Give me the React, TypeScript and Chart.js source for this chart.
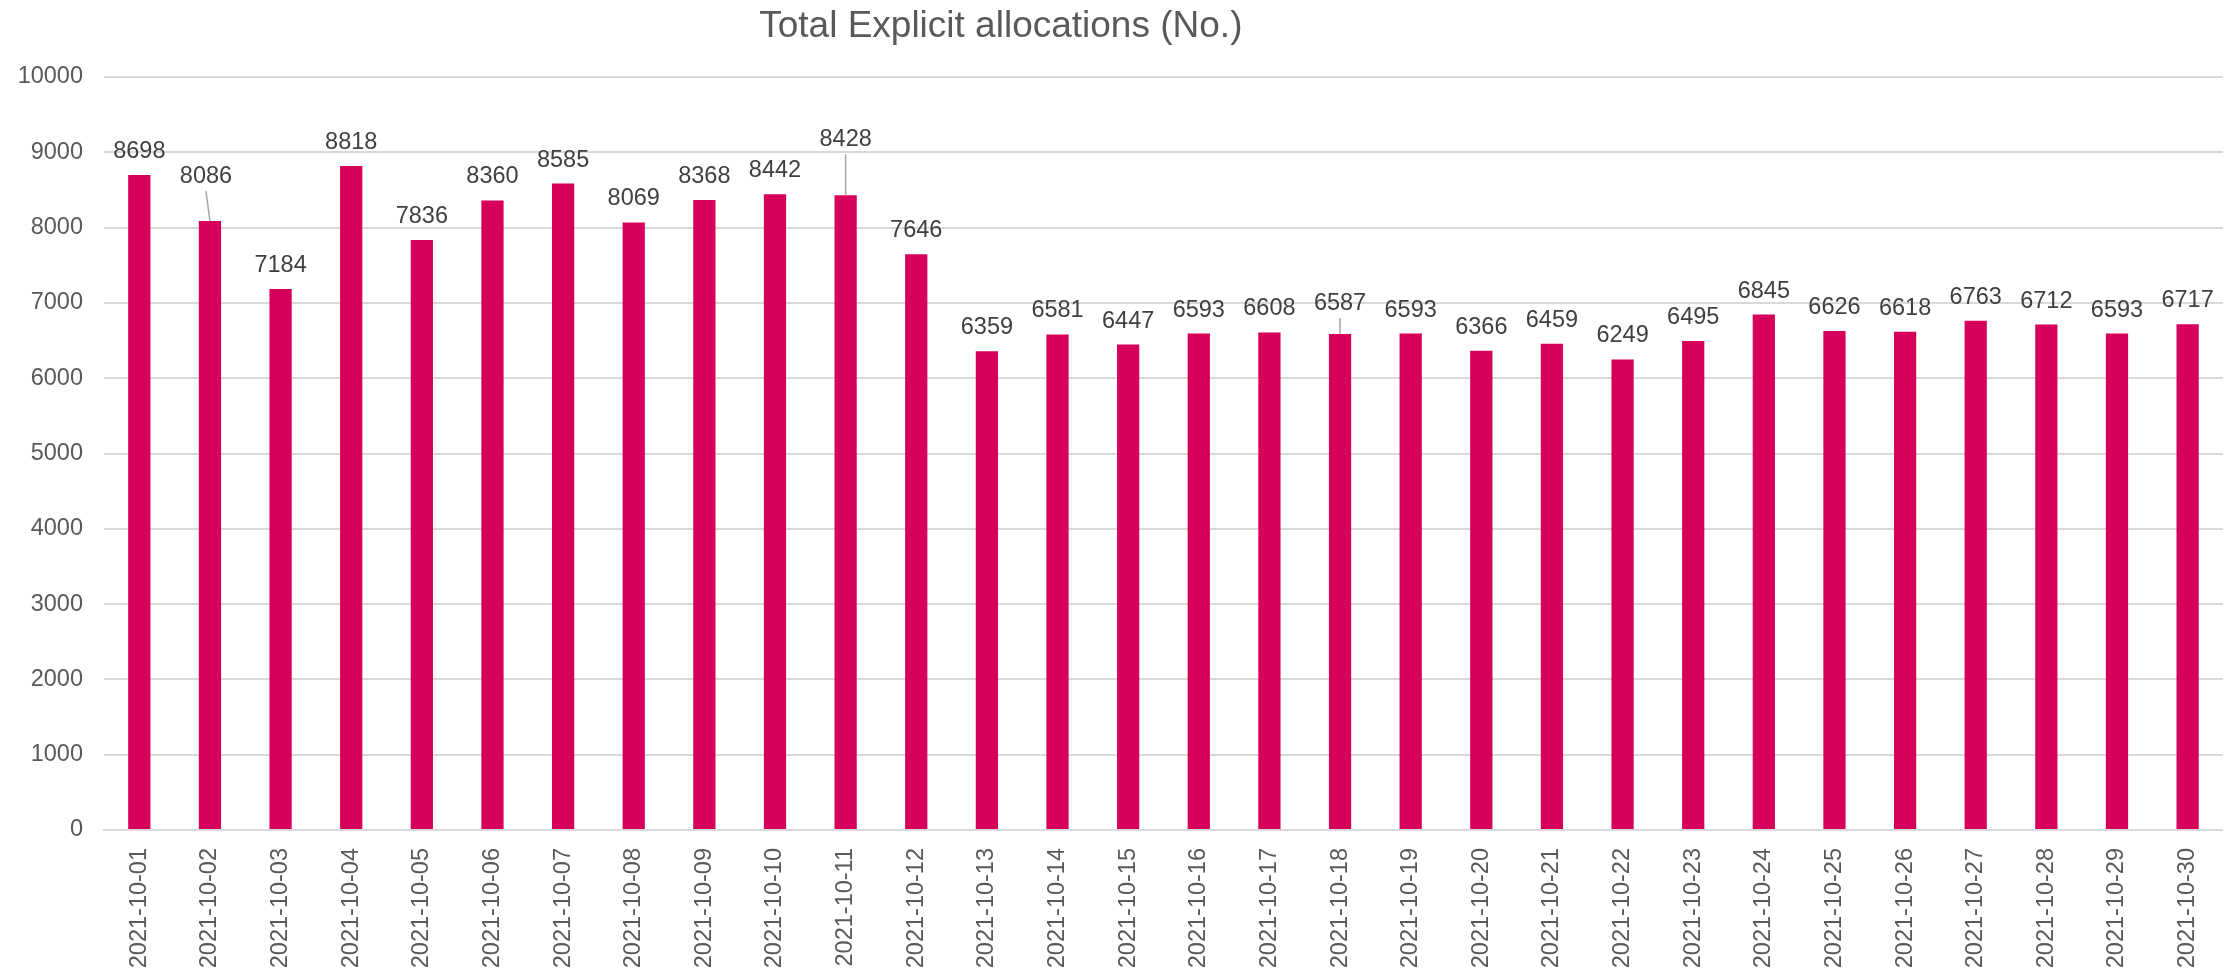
import React, { useEffect, useRef } from "react";
import { Chart, registerables } from "chart.js";

Chart.register(...registerables);

const TITLE = "Total Explicit allocations (No.)";

const dates: string[] = [
  "2021-10-01", "2021-10-02", "2021-10-03", "2021-10-04", "2021-10-05",
  "2021-10-06", "2021-10-07", "2021-10-08", "2021-10-09", "2021-10-10",
  "2021-10-11", "2021-10-12", "2021-10-13", "2021-10-14", "2021-10-15",
  "2021-10-16", "2021-10-17", "2021-10-18", "2021-10-19", "2021-10-20",
  "2021-10-21", "2021-10-22", "2021-10-23", "2021-10-24", "2021-10-25",
  "2021-10-26", "2021-10-27", "2021-10-28", "2021-10-29", "2021-10-30",
];

const allocations: number[] = [
  8698, 8086, 7184, 8818, 7836, 8360, 8585, 8069, 8368, 8442,
  8428, 7646, 6359, 6581, 6447, 6593, 6608, 6587, 6593, 6366,
  6459, 6249, 6495, 6845, 6626, 6618, 6763, 6712, 6593, 6717,
];

// labels that were moved upward (leader line drawn to the bar)
const labelLift: number[] = [
  0, 21, 0, 0, 0, 0, 0, 0, 0, 0,
  32, 0, 0, 0, 0, 0, 0, 7, 0, 0,
  0, 0, 0, 0, 0, 0, 0, 0, 0, 0,
];
const labelShift: number[] = [
  0, -4, 0, 0, 0, 0, 0, 0, 0, 0,
  0, 0, 0, 0, 0, 0, 0, 0, 0, 0,
  0, 0, 0, 0, 0, 0, 0, 0, 0, 0,
];

const yTicks: number[] = [0, 1000, 2000, 3000, 4000, 5000, 6000, 7000, 8000, 9000, 10000];

const FONT = "'Liberation Sans', Arial, Helvetica, sans-serif";
const BAR = "#d6005a";
const GRID = "#d9d9d9";
const TICK_COLOR = "#595959";
const LABEL_COLOR = "#404040";

const labelPlugin = {
  id: "valueLabels",
  afterDatasetsDraw(chart: any) {
    const ctx = chart.ctx;
    const meta = chart.getDatasetMeta(0);
    ctx.save();
    ctx.font = `23.5px ${FONT}`;
    ctx.fillStyle = LABEL_COLOR;
    ctx.textAlign = "center";
    ctx.textBaseline = "alphabetic";
    meta.data.forEach((bar: any, i: number) => {
      const lift = labelLift[i] || 0;
      const shift = labelShift[i] || 0;
      const lx = bar.x + shift;
      const baseY = bar.y - 17 - lift;
      ctx.fillText(String(allocations[i]), lx, baseY);
      if (lift > 0) {
        ctx.beginPath();
        ctx.strokeStyle = "#a6a6a6";
        ctx.lineWidth = 1.5;
        ctx.moveTo(lx, baseY + 8);
        ctx.lineTo(bar.x, bar.y);
        ctx.stroke();
      }
    });
    ctx.restore();
  },
};

const titlePlugin = {
  id: "customTitle",
  afterDraw(chart: any) {
    const ctx = chart.ctx;
    ctx.save();
    ctx.font = `37px ${FONT}`;
    ctx.fillStyle = TICK_COLOR;
    ctx.textAlign = "center";
    ctx.textBaseline = "alphabetic";
    ctx.fillText(TITLE, chart.width * 0.448, 37);
    ctx.restore();
  },
};

export default function App() {
  const ref = useRef<HTMLCanvasElement | null>(null);

  useEffect(() => {
    if (!ref.current) return;
    const chart = new Chart(ref.current, {
      type: "bar",
      data: {
        labels: dates,
        datasets: [
          {
            label: TITLE,
            data: allocations,
            backgroundColor: BAR,
            borderWidth: 0,
            barPercentage: 0.315,
            categoryPercentage: 1,
          },
        ],
      },
      options: {
        responsive: false,
        animation: false,
        layout: { padding: { top: 77, right: 11, left: 0, bottom: 0 } },
        plugins: {
          legend: { display: false },
          title: { display: false },
          tooltip: { enabled: false },
        },
        scales: {
          x: {
            grid: { display: false, drawTicks: false },
            border: { display: true, color: GRID, width: 2 },
            ticks: {
              color: TICK_COLOR,
              font: { family: FONT, size: 23.5 },
              minRotation: 90,
              maxRotation: 90,
              padding: 18,
              autoSkip: false,
            },
            afterFit(scale: any) {
              scale.height = 138;
            },
          },
          y: {
            min: 0,
            max: 10000,
            afterBuildTicks(scale: any) {
              scale.ticks = yTicks.map((v) => ({ value: v }));
            },
            grid: { color: GRID, lineWidth: 2, drawTicks: false },
            border: { display: false },
            ticks: {
              color: TICK_COLOR,
              font: { family: FONT, size: 23.5 },
              padding: 21,
              callback: (value: any) => String(value),
            },
            afterFit(scale: any) {
              scale.width = 104;
            },
          },
        },
      },
      plugins: [labelPlugin, titlePlugin],
    });
    return () => chart.destroy();
  }, []);

  return (
    <div style={{ position: "fixed", left: 0, top: 0, width: 2234, height: 968, background: "#fff" }}>
      <canvas ref={ref} width={2234} height={968} style={{ width: 2234, height: 968, display: "block" }} />
    </div>
  );
}
